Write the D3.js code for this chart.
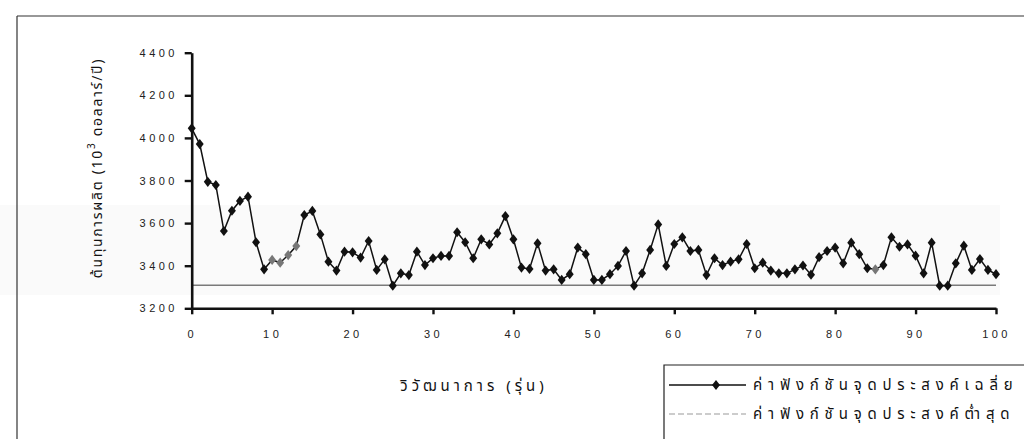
<!DOCTYPE html>
<html>
<head>
<meta charset="utf-8">
<script src="https://cdn.jsdelivr.net/npm/d3@7"></script>
<style>
  html, body { margin: 0; padding: 0; background: #fff; }
  svg { display: block; }
  .num { font-family: Arial, "Liberation Sans", sans-serif; font-size: 11px; letter-spacing: 3.4px; fill: #222; }
  .thai { font-family: "Noto Sans Thai", "Noto Sans", "DejaVu Sans", sans-serif; fill: #111; }
</style>
</head>
<body>
<svg id="chart" width="1024" height="439"></svg>
<script>
// Average objective value per generation (10^3 USD / year), generations 0..100
const generations = d3.range(0, 101);
const avgCost = [
  4045, 3971, 3794, 3779, 3563, 3658, 3704, 3724, 3510, 3383,
  3427, 3414, 3450, 3492, 3638, 3657, 3547, 3419, 3377, 3466,
  3463, 3438, 3516, 3380, 3430, 3306, 3364, 3356, 3466, 3403,
  3435, 3446, 3446, 3557, 3510, 3435, 3524, 3500, 3552, 3633,
  3524, 3391, 3385, 3505, 3377, 3383, 3333, 3360, 3485, 3454,
  3333, 3333, 3360, 3399, 3469, 3306, 3364, 3474, 3594, 3399,
  3502, 3533, 3469, 3474, 3356, 3435, 3403, 3419, 3430, 3502,
  3388, 3414, 3377, 3364, 3364, 3383, 3401, 3358, 3440, 3469,
  3485, 3411, 3508, 3454, 3388, 3383, 3403, 3533, 3489, 3500,
  3447, 3364, 3508, 3306, 3306, 3411, 3494, 3380, 3431, 3380,
  3360
];
// Best (minimum) objective value found
const minCost = 3308;
// Generations whose markers print lighter
const fadedGens = [10, 11, 12, 13, 85];

const xTicks = [0, 10, 20, 30, 40, 50, 60, 70, 80, 90, 100];
const yTicks = [3200, 3400, 3600, 3800, 4000, 4200, 4400];

const xTitle = "วิวัฒนาการ (รุ่น)";
const yTitleMain = "ต้นทุนการผลิต (10";
const yTitleSup = "3";
const yTitleRest = " ดอลลาร์/ปี)";
const legendLabels = ["ค่าฟังก์ชันจุดประสงค์เฉลี่ย", "ค่าฟังก์ชันจุดประสงค์ต่ำสุด"];

const svg = d3.select("#chart");

const x = d3.scaleLinear().domain([0, 100]).range([191.7, 996]);
const y = d3.scaleLinear().domain([3200, 4400]).range([308.3, 52.7]);

// faint grey band across the middle of the page
svg.append("rect").attr("x", 0).attr("y", 205).attr("width", 1000).attr("height", 90).attr("fill", "#fafafa");

// outer frame
svg.append("line").attr("x1", 17).attr("x2", 1024).attr("y1", 16).attr("y2", 16)
  .attr("stroke", "#333").attr("stroke-width", 1.2);
svg.append("line").attr("x1", 17).attr("x2", 17).attr("y1", 16).attr("y2", 439)
  .attr("stroke", "#333").attr("stroke-width", 1.2);

// minimum line
svg.append("line")
  .attr("x1", x(0)).attr("x2", x(100))
  .attr("y1", y(minCost)).attr("y2", y(minCost))
  .attr("stroke", "#7a7a7a").attr("stroke-width", 1.4);

// axes
const yAxis = d3.axisLeft(y).tickValues(yTicks).tickSize(7).tickSizeOuter(0).tickFormat(d3.format("d"));
const gy = svg.append("g").attr("transform", `translate(${x(0)},0)`).call(yAxis);
gy.select(".domain").attr("stroke", "#111").attr("stroke-width", 2.6);
gy.selectAll(".tick line").attr("stroke", "#111").attr("stroke-width", 2.4);
gy.selectAll(".tick text").attr("class", "num").attr("x", -14).attr("font-family", null).attr("font-size", null);

const xAxis = d3.axisBottom(x).tickValues(xTicks).tickSize(6).tickSizeOuter(0).tickFormat(d3.format("d"));
const gx = svg.append("g").attr("transform", `translate(0,${y(3200)})`).call(xAxis);
gx.select(".domain").attr("stroke", "#111").attr("stroke-width", 2.6);
gx.selectAll(".tick line").attr("stroke", "#111").attr("stroke-width", 2.4);
gx.selectAll(".tick text").attr("class", "num").attr("y", 22).attr("font-family", null).attr("font-size", null);

// average line with diamond markers
const line = d3.line().x((d, i) => x(generations[i])).y(d => y(d));
svg.append("path").datum(avgCost).attr("d", line)
  .attr("fill", "none").attr("stroke", "#111").attr("stroke-width", 1.5);

const diamond = d3.symbol().type(d3.symbolDiamond).size(30);
svg.append("g").selectAll("path").data(avgCost).join("path")
  .attr("d", diamond)
  .attr("transform", (d, i) => `translate(${x(generations[i])},${y(d)}) scale(1.35,1)`)
  .attr("fill", (d, i) => fadedGens.includes(generations[i]) ? "#777" : "#111");

// axis titles
svg.append("text").attr("class", "thai")
  .attr("x", 474).attr("y", 391).attr("text-anchor", "middle")
  .attr("font-size", 15).style("letter-spacing", "4px")
  .text(xTitle);

const yt = svg.append("text").attr("class", "thai")
  .attr("transform", `translate(102,168) rotate(-90)`)
  .attr("text-anchor", "middle").attr("font-size", 14).style("letter-spacing", "1.7px");
yt.append("tspan").text(yTitleMain);
yt.append("tspan").attr("dy", -7).attr("font-size", 10).text(yTitleSup);
yt.append("tspan").attr("dy", 7).text(yTitleRest);

// legend
const lg = svg.append("g");
lg.append("path").attr("d", "M664,439 V365 H1024").attr("fill", "none")
  .attr("stroke", "#222").attr("stroke-width", 1.2);
const rowY = [385, 414];
lg.append("line").attr("x1", 669).attr("x2", 746).attr("y1", rowY[0]).attr("y2", rowY[0])
  .attr("stroke", "#111").attr("stroke-width", 1.3);
lg.append("path").attr("d", diamond)
  .attr("transform", `translate(716,${rowY[0]}) scale(1.35,1)`).attr("fill", "#111");
lg.append("line").attr("x1", 669).attr("x2", 746).attr("y1", rowY[1]).attr("y2", rowY[1])
  .attr("stroke", "#999").attr("stroke-width", 1.2).attr("stroke-dasharray", "6,3");
lg.selectAll("text.leg").data(legendLabels).join("text")
  .attr("class", "thai leg")
  .attr("x", 753).attr("y", (d, i) => rowY[i] + 5)
  .attr("font-size", 15).style("letter-spacing", "5.8px")
  .text(d => d);
</script>
</body>
</html>
